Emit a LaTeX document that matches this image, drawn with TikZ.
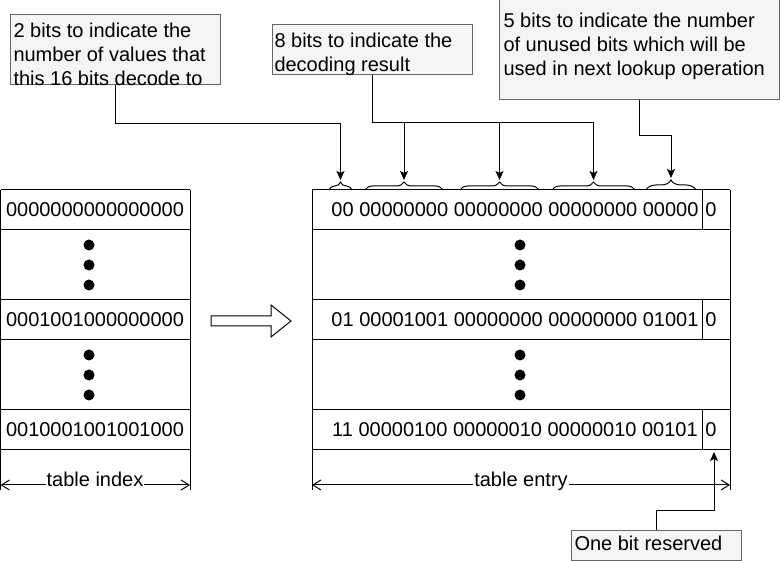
\documentclass[tikz,border=0pt]{standalone}
\usepackage{fontspec}
\setmainfont{Liberation Sans}
\usetikzlibrary{arrows.meta}
\usetikzlibrary{decorations.pathreplacing}
\usetikzlibrary{positioning}
\definecolor{notefill}{HTML}{F5F5F5}
\definecolor{noteline}{HTML}{666666}
\tikzset{
  note/.style={draw=noteline, fill=notefill, inner sep=0pt},
  notetext/.style={anchor=north west, inner sep=0pt, align=left, font=\fontsize{20}{24}\selectfont},
  cell/.style={inner sep=0pt, font=\fontsize{20}{24}\selectfont},
  bitbrace/.style={decorate, decoration={brace, amplitude=#1}},
  bitbrace/.default=8pt,
  feed/.style={-{Stealth[length=9pt,width=8pt,inset=2pt]}},
  dimline/.style={{Straight Barb[length=8pt,width=10pt]}-{Straight Barb[length=8pt,width=10pt]}},
}
\def\hollowarrow{(211,316) -- (271,316) -- (271,305) -- (291,321) -- (271,337) -- (271,326) -- (211,326) -- cycle}

\begin{document}
\begin{tikzpicture}[x=1pt, y=-1pt, line width=1pt]
        \useasboundingbox (0,0) rectangle (780,561);

        % annotation boxes
        \node[note, minimum width=210pt, minimum height=70pt] (b2bits) at (115,50) {};
        \node[note, minimum width=200pt, minimum height=50pt] (b8bits) at (372,50) {};
        \node[note, minimum width=280pt, minimum height=102pt] (b5bits) at (639,49) {};
        \node[note, minimum width=170pt, minimum height=30pt] (breserved) at (656,545) {};
        \node[notetext] (t2bits) at (13,20) {\strut 2 bits to indicate the\\ number of values that\\ this 16 bits decode to};
        \node[notetext] (t8bits) at (274,30) {\strut 8 bits to indicate the\\ decoding result};
        \node[notetext] (t5bits) at (503,10) {\strut 5 bits to indicate the number\\ of unused bits which will be\\ used in next lookup operation};
        \node[notetext] (treserved) at (574,533) {\strut One bit reserved};

        % table index
        \foreach \y in {190,230,300,340,410,450}
            \draw (0.5,\y) -- (190,\y);
        \draw (0.5,190) -- (0.5,490) (190,190) -- (190,490);
        \node[cell] (idx1) at (95,210) {0000000000000000};
        \node[cell] (idx2) at (95,320) {0001001000000000};
        \node[cell] (idx3) at (95,430) {0010001001001000};

        % table entry
        \foreach \y in {190,230,300,340,410,450}
            \draw (312,\y) -- (730,\y);
        \draw (312,190) -- (312,490) (730,190) -- (730,490);
        \foreach \y in {190,300,410}
            \draw (702,\y) -- (702,\y+40);
        \node[cell] (ent1) at (515,210) {00 00000000 00000000 00000000 00000};
        \node[cell] (ent2) at (515,320) {01 00001001 00000000 00000000 01001};
        \node[cell] (ent3) at (515,430) {11 00000100 00000010 00000010 00101};
        \node[cell] (res1) at (711,210) {0};
        \node[cell] (res2) at (711,320) {0};
        \node[cell] (res3) at (711,430) {0};

        % dots
        \foreach \y in {245,265,285,355,375,395} {
            \fill (89,\y) circle[radius=5.5pt];
            \fill (520,\y) circle[radius=5.5pt];
        }

        % hollow arrow
        \draw[fill=white] \hollowarrow;

        % braces over the fields
        \draw[bitbrace] (329,190) -- (352,190);
        \draw[bitbrace] (365,190) -- (443,190);
        \draw[bitbrace] (460,190) -- (539,190);
        \draw[bitbrace] (552,190) -- (635,190);
        \draw[bitbrace=10pt] (646,190) -- (696,190);
        \coordinate (tip1) at (340.5,180);
        \coordinate (tip2) at (404,180);
        \coordinate (tip3) at (499.5,180);
        \coordinate (tip4) at (593.5,180);
        \coordinate (tip5) at (671,178);
        \coordinate (tip6) at (714,452);

        % connectors
        \draw[feed] (b2bits.south) -- ++(0,38) -| (tip1);
        \coordinate (bus) at (372,123);
        \draw (b8bits.south) -- (bus);
        \draw[feed] (bus) -| (tip2);
        \draw[feed] (bus) -| (tip3);
        \draw[feed] (bus) -| (tip4);
        \draw[feed] (b5bits.south) -- ++(0,35) -| (tip5);
        \draw[feed] (breserved.north) -- ++(0,-19) -| (tip6);

        % widths
        \draw[dimline] (0.5,485) -- (190,485);
        \node[cell, fill=white, inner xsep=1pt, anchor=base] (idxlabel) at (95,487) {table index};
        \draw[dimline] (312,485) -- (730,485);
        \node[cell, fill=white, inner xsep=1pt, anchor=base] (entlabel) at (521,487) {table entry};
    \end{tikzpicture}
\end{document}
